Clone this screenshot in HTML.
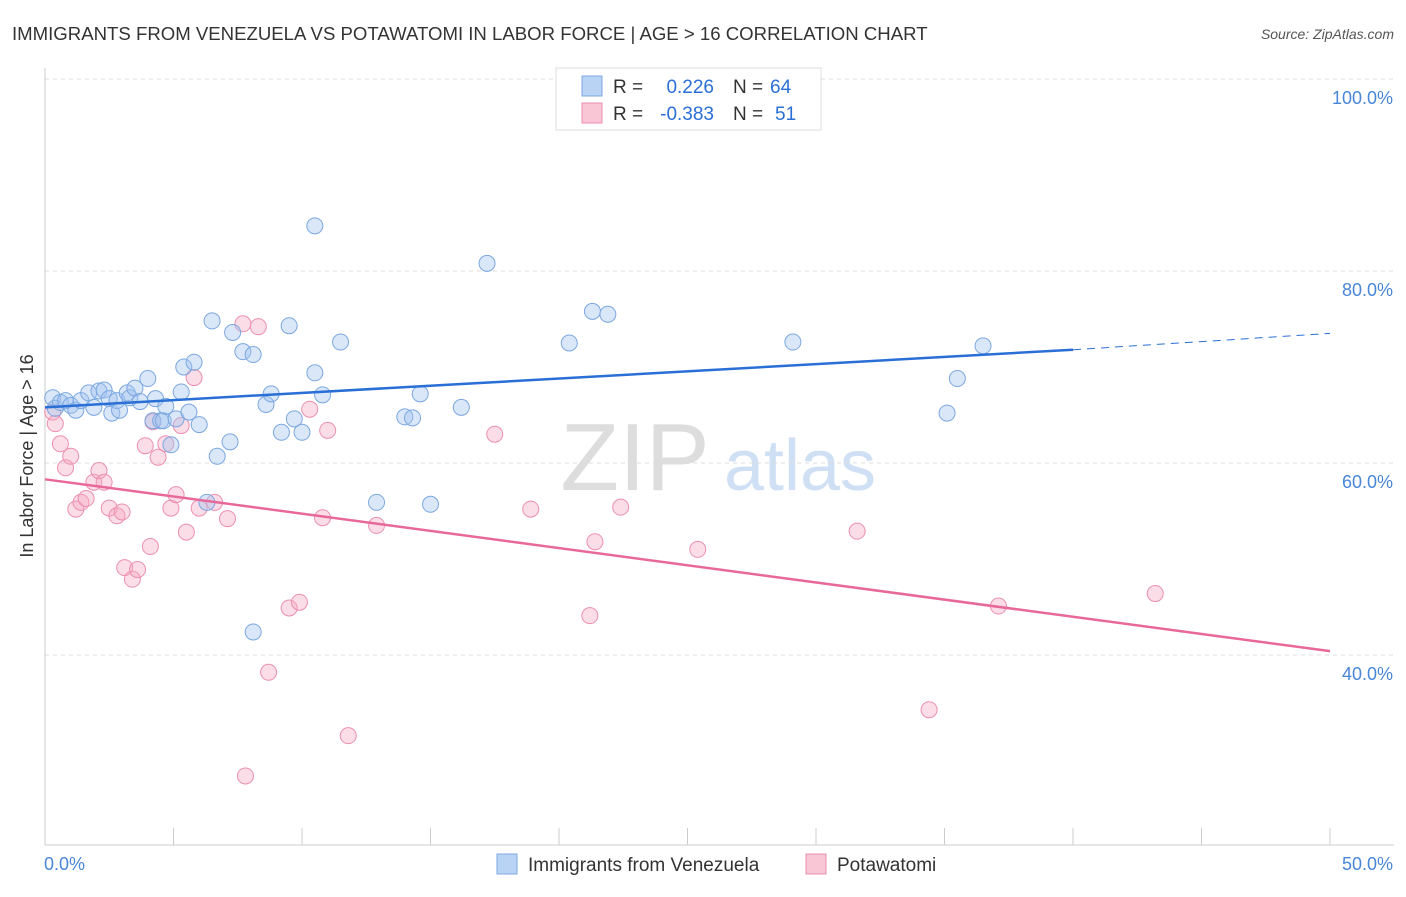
<!DOCTYPE html>
<html><head><meta charset="utf-8"><style>
body{margin:0;background:#fff;font-family:"Liberation Sans",sans-serif;}
svg text{font-family:"Liberation Sans",sans-serif;}
</style></head><body>
<svg id="chart" width="1406" height="892">
<text x="12" y="40" font-size="18.6" fill="#333">IMMIGRANTS FROM VENEZUELA VS POTAWATOMI IN LABOR FORCE | AGE &gt; 16 CORRELATION CHART</text>
<text x="1394" y="39" font-size="14" fill="#555" text-anchor="end" font-style="italic">Source: ZipAtlas.com</text>
<text x="0" y="0" font-size="18" fill="#333" text-anchor="middle" transform="translate(33,456) rotate(-90)">In Labor Force | Age &gt; 16</text>
<g><text x="635" y="490" font-size="96" fill="#ddd" font-family="Liberation Serif" text-anchor="middle">ZIP</text><text x="800" y="490" font-size="72" fill="#cfe0f5" text-anchor="middle">atlas</text></g>
<g id="grid"></g><g id="axes"></g><g id="pts"></g><g id="lines"></g>
<g>
<rect x="556" y="68" width="265" height="62" fill="#fff" stroke="#ddd"/>
<rect x="582" y="76" width="20" height="20" fill="#b9d3f5" stroke="#7ba7e0"/>
<rect x="582" y="103" width="20" height="20" fill="#f9c6d6" stroke="#ec8fb0"/>
<text x="613" y="93" font-size="19" fill="#333">R =</text>
<text x="714" y="93" font-size="19" fill="#2a6fd6" text-anchor="end">0.226</text>
<text x="733" y="93" font-size="19" fill="#333">N =</text>
<text x="770" y="93" font-size="19" fill="#2a6fd6">64</text>
<text x="613" y="120" font-size="19" fill="#333">R =</text>
<text x="714" y="120" font-size="19" fill="#2a6fd6" text-anchor="end">-0.383</text>
<text x="733" y="120" font-size="19" fill="#333">N =</text>
<text x="775" y="120" font-size="19" fill="#2a6fd6">51</text>
</g>
<g>
<rect x="497" y="854" width="20" height="20" fill="#b9d3f5" stroke="#7ba7e0"/>
<text x="528" y="871" font-size="19" fill="#333">Immigrants from Venezuela</text>
<rect x="806" y="854" width="20" height="20" fill="#f9c6d6" stroke="#ec8fb0"/>
<text x="837" y="871" font-size="19" fill="#333">Potawatomi</text>
</g>
</svg>
<script>
const yTicks=[40,60,80,100];
const yTickLabels=["40.0%","60.0%","80.0%","100.0%"];
const xEnds=[0,50];
const xEndLabels=["0.0%","50.0%"];
const blueX=[0.3,0.4,0.6,0.8,1.0,1.2,1.4,1.7,1.9,2.1,2.3,2.5,2.6,2.8,2.9,3.2,3.3,3.5,3.7,4.0,4.2,4.3,4.5,4.6,4.7,4.9,5.1,5.3,5.4,5.6,5.8,6.0,6.3,6.5,6.7,7.2,7.3,7.7,8.1,8.1,8.6,8.8,9.2,9.5,9.7,10.0,10.5,10.5,10.8,11.5,12.9,14.0,14.3,14.6,15.0,16.2,17.2,20.4,21.3,21.9,29.1,35.1,35.5,36.5];
const blueY=[66.8,65.7,66.3,66.5,66.0,65.5,66.5,67.3,65.8,67.5,67.6,66.7,65.2,66.5,65.5,67.3,66.8,67.8,66.4,68.8,64.4,66.7,64.4,64.4,65.9,61.9,64.6,67.4,70.0,65.3,70.5,64.0,55.9,74.8,60.7,62.2,73.6,71.6,71.3,42.4,66.1,67.2,63.2,74.3,64.6,63.2,84.7,69.4,67.1,72.6,55.9,64.8,64.7,67.2,55.7,65.8,80.8,72.5,75.8,75.5,72.6,65.2,68.8,72.2];
const pinkX=[0.3,0.4,0.6,0.8,1.0,1.2,1.4,1.6,1.9,2.1,2.3,2.5,2.8,3.0,3.1,3.4,3.6,3.9,4.1,4.2,4.4,4.7,4.9,5.1,5.3,5.5,5.8,6.0,6.6,7.1,7.7,7.8,8.3,8.7,9.5,9.9,10.3,10.8,11.0,11.8,12.9,17.5,18.9,21.2,21.4,22.4,25.4,31.6,34.4,37.1,43.2];
const pinkY=[65.3,64.1,62.0,59.5,60.7,55.2,55.9,56.3,58.0,59.2,58.0,55.3,54.5,54.9,49.1,47.9,48.9,61.8,51.3,64.3,60.6,62.0,55.3,56.7,63.9,52.8,68.9,55.3,55.9,54.2,74.5,27.4,74.2,38.2,44.9,45.5,65.6,54.3,63.4,31.6,53.5,63.0,55.2,44.1,51.8,55.4,51.0,52.9,34.3,45.1,46.4];
const blueTrend=[[0,65.8],[40,71.8],[50,73.5]];
const pinkTrend=[[0,58.3],[50,40.4]];
const X=v=>45+v*25.7, Y=v=>79+(100-v)*9.6;
const NS="http://www.w3.org/2000/svg";
function mk(t,a,p){const e=document.createElementNS(NS,t);for(const k in a)e.setAttribute(k,a[k]);document.getElementById(p).appendChild(e);return e;}
yTicks.forEach((t,i)=>{
 const l=mk('line',{x1:45,x2:1394,y1:Y(t),y2:Y(t),stroke:'#ddd','stroke-dasharray':'4,4'},'grid');
 
 
 const tx=mk('text',{x:1393,y:Y(t)+25,'font-size':18,fill:'#4a86d8','text-anchor':'end'},'axes');
 tx.textContent=yTickLabels[i];
 
 
});
mk('line',{x1:45,x2:45,y1:68,y2:845,stroke:'#ccc'},'axes');
mk('line',{x1:45,x2:1394,y1:845,y2:845,stroke:'#ccc'},'axes');
for(let i=0;i<=10;i++){const l=mk('line',{x1:X(i*5),x2:X(i*5),y1:828,y2:845,stroke:'#ccc'},'axes');
 
 }
xEnds.forEach((v,i)=>{const t=mk('text',{x:i?X(v)+63:X(v)-1,y:870,'font-size':18,fill:'#4a86d8','text-anchor':i?'end':'start'},'axes');t.textContent=xEndLabels[i];
 
 });
pinkX.forEach((v,i)=>{const c=mk('circle',{cx:X(v),cy:Y(pinkY[i]),r:8,fill:'rgba(244,170,195,0.4)',stroke:'#ec8fb0','stroke-width':1},'pts');
 
 });
blueX.forEach((v,i)=>{const c=mk('circle',{cx:X(v),cy:Y(blueY[i]),r:8,fill:'rgba(160,195,240,0.4)',stroke:'#7ba7e0','stroke-width':1},'pts');
 
 });
let b=mk('line',{x1:X(blueTrend[0][0]),y1:Y(blueTrend[0][1]),x2:X(blueTrend[1][0]),y2:Y(blueTrend[1][1]),stroke:'#2a6fd6','stroke-width':2.5},'lines');


b=mk('line',{x1:X(blueTrend[1][0]),y1:Y(blueTrend[1][1]),x2:X(blueTrend[2][0]),y2:Y(blueTrend[2][1]),stroke:'#2a6fd6','stroke-width':1,'stroke-dasharray':'8,6'},'lines');


b=mk('line',{x1:X(pinkTrend[0][0]),y1:Y(pinkTrend[0][1]),x2:X(pinkTrend[1][0]),y2:Y(pinkTrend[1][1]),stroke:'#e8689a','stroke-width':2.5},'lines');


</script>
</body></html>
